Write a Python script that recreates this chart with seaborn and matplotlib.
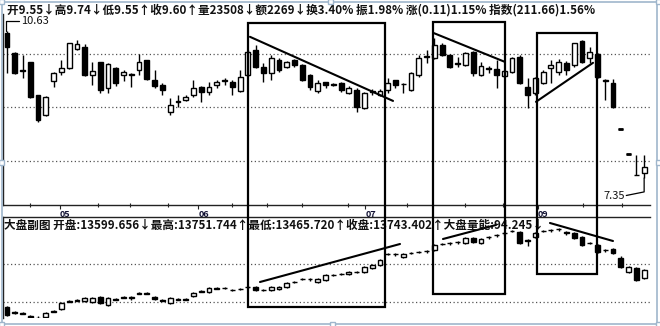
import numpy as np
import matplotlib
matplotlib.use("Agg")
import matplotlib.pyplot as plt
import matplotlib.transforms as mtransforms
from matplotlib.patches import Rectangle
import seaborn as sns

sns.set_theme(style="white")
plt.rcParams['font.family'] = ['Noto Sans CJK SC', 'DejaVu Sans']

# ---------------- data: stock daily candles ----------------
stock_open = [10.59, 10.14, 9.76, 9.94, 9.20, 8.76, 9.51, 9.72, 9.80, 10.23,
              10.27, 9.65, 9.94, 9.36, 9.80, 9.65, 9.65, 9.76, 9.98, 9.54,
              9.43, 8.82, 9.05, 9.09, 9.20, 9.38, 9.27, 9.43, 9.51, 9.49,
              9.29, 9.65, 10.21, 9.83, 9.69, 9.98, 9.83, 9.98, 9.87, 9.65,
              9.29, 9.49, 9.45, 9.47, 9.25, 9.31, 8.91, 9.27, 9.20, 9.31,
              9.54, 9.45, 9.31, 9.65, 10.05, 10.03, 10.32, 10.09, 9.92, 9.87,
              10.16, 9.65, 9.80, 9.78, 9.63, 9.72, 10.05, 9.38, 9.25, 9.47,
              9.80, 9.72, 9.92, 9.87, 10.41, 10.03, 10.12, 9.51, 9.47, 8.44,
              7.89, 7.42, 7.46]
stock_high = [10.63, 10.16, 10.09, 9.94, 9.20, 9.18, 9.72, 9.98, 10.36, 10.43,
              10.34, 9.94, 9.94, 9.92, 9.83, 9.76, 9.69, 10.12, 9.98, 9.76,
              9.47, 9.14, 9.20, 9.20, 9.54, 9.40, 9.49, 9.54, 9.58, 9.54,
              9.76, 10.21, 10.32, 9.92, 10.09, 10.03, 9.96, 10.00, 9.89, 9.67,
              9.54, 9.49, 9.47, 9.49, 9.40, 9.36, 9.27, 9.34, 9.34, 9.58,
              9.54, 9.47, 9.72, 10.09, 10.21, 10.47, 10.36, 10.12, 10.05, 10.16,
              10.18, 9.94, 9.85, 9.98, 9.76, 10.05, 10.09, 9.58, 9.60, 9.76,
              9.98, 10.00, 9.96, 10.36, 10.43, 10.27, 10.14, 9.56, 9.56, 8.44,
              7.89, 7.86, 7.86]
stock_low = [9.69, 9.67, 9.58, 9.14, 8.60, 8.73, 9.38, 9.65, 9.78, 10.21,
             9.63, 9.43, 9.25, 9.25, 9.40, 9.51, 9.38, 9.65, 9.54, 9.36,
             9.20, 8.76, 8.93, 9.07, 9.16, 9.05, 9.20, 9.36, 9.43, 9.20,
             9.27, 9.63, 9.80, 9.49, 9.54, 9.72, 9.80, 9.83, 9.51, 9.31,
             9.25, 9.36, 9.40, 9.27, 9.22, 8.82, 8.89, 9.20, 9.18, 9.25,
             9.36, 9.25, 9.29, 9.60, 9.92, 10.00, 10.07, 9.80, 9.83, 9.85,
             9.63, 9.63, 9.69, 9.36, 9.60, 9.69, 9.45, 8.91, 9.20, 9.45,
             9.47, 9.65, 9.65, 9.83, 9.92, 9.92, 9.58, 9.09, 8.91, 8.44,
             7.89, 7.42, 7.35]
stock_close = [10.27, 9.69, 9.74, 9.16, 8.64, 9.16, 9.69, 9.80, 10.36, 10.34,
               9.65, 9.74, 9.31, 9.89, 9.47, 9.72, 9.67, 9.94, 9.56, 9.40,
               9.31, 8.98, 9.07, 9.16, 9.36, 9.27, 9.38, 9.49, 9.54, 9.38,
               9.60, 10.16, 9.83, 9.69, 10.03, 9.76, 9.94, 9.87, 9.54, 9.38,
               9.47, 9.43, 9.43, 9.31, 9.36, 8.93, 9.25, 9.29, 9.29, 9.47,
               9.43, 9.44, 9.69, 10.03, 10.07, 10.32, 10.09, 9.83, 9.89, 10.14,
               9.69, 9.85, 9.78, 9.65, 9.74, 10.03, 9.47, 9.20, 9.58, 9.72,
               9.87, 9.94, 9.76, 10.36, 9.94, 10.16, 9.60, 9.54, 8.93, 8.44,
               7.89, 7.42, 7.60]

# ---------------- data: market index candles (sub chart) ----------------
idx_open = [12633, 12483, 12453, 12363, 12318, 12333, 12498, 12573, 12798, 12828,
            12813, 12783, 12933, 12693, 12873, 12918, 12918, 13038, 13053, 12933,
            12843, 12753, 12858, 12873, 12963, 13098, 13083, 13188, 13190, 13150,
            13165, 13225, 13233, 13150, 13143, 13173, 13233, 13375, 13465, 13473,
            13383, 13443, 13585, 13615, 13623, 13675, 13683, 13803, 13893, 14215,
            14223, 14133, 14245, 14275, 14305, 14343, 14515, 14545, 14575, 14553,
            14703, 14553, 14725, 14785, 14845, 14905, 14883, 14613, 14733, 14905,
            14935, 14965, 14883, 14853, 14733, 14545, 14493, 14335, 14373, 14103,
            13683, 13803, 13503]
idx_high = [12663, 12513, 12483, 12393, 12348, 12483, 12543, 12783, 12843, 12873,
            12933, 12933, 12963, 12933, 12903, 12963, 12948, 13083, 13083, 12963,
            12873, 12933, 12903, 12903, 13083, 13143, 13233, 13233, 13233, 13173,
            13203, 13263, 13263, 13173, 13263, 13263, 13383, 13413, 13503, 13503,
            13503, 13623, 13623, 13653, 13713, 13713, 13863, 13923, 14073, 14253,
            14253, 14253, 14283, 14313, 14343, 14523, 14553, 14583, 14613, 14733,
            14733, 14703, 14763, 14823, 14883, 14943, 14913, 14673, 14883, 14943,
            14973, 15003, 14913, 14883, 14763, 14583, 14523, 14373, 14403, 14163,
            13863, 13833, 13773]
idx_low = [12363, 12423, 12408, 12273, 12273, 12303, 12468, 12543, 12768, 12798,
           12783, 12753, 12723, 12663, 12828, 12888, 12843, 13008, 13008, 12843,
           12798, 12723, 12828, 12828, 12933, 13068, 13053, 13158, 13160, 13113,
           13143, 13203, 13113, 13100, 13113, 13143, 13203, 13353, 13443, 13413,
           13353, 13413, 13563, 13593, 13593, 13653, 13653, 13773, 13863, 14193,
           14163, 14103, 14223, 14253, 14253, 14313, 14493, 14493, 14523, 14523,
           14553, 14523, 14673, 14733, 14793, 14883, 14523, 14463, 14703, 14883,
           14883, 14913, 14793, 14673, 14463, 14523, 14253, 14283, 14223, 13803,
           13653, 13413, 13473]
idx_close = [12393, 12453, 12438, 12303, 12303, 12453, 12513, 12753, 12813, 12843,
             12903, 12903, 12753, 12903, 12858, 12933, 12933, 13053, 13038, 12873,
             12828, 12903, 12873, 12858, 13053, 13113, 13203, 13203, 13203, 13143,
             13173, 13233, 13143, 13143, 13233, 13233, 13353, 13383, 13473, 13465,
             13473, 13593, 13593, 13623, 13683, 13683, 13833, 13893, 14043, 14223,
             14210, 14223, 14253, 14283, 14313, 14493, 14523, 14553, 14583, 14703,
             14583, 14673, 14733, 14793, 14853, 14913, 14553, 14643, 14853, 14913,
             14943, 14973, 14853, 14703, 14493, 14553, 14283, 14343, 14253, 13833,
             13833, 13443, 13743]

month_labels = ["05", "06", "07", "09"]
month_pos = [6.8, 24.6, 46.1, 68.3]
minor_ticks = [3, 11.7, 15.8, 20.7, 29, 33.5, 38, 43.9, 51.5, 58.9, 63.8, 74.1, 79.2]

price_grid = [10.12, 8.93, 7.73]
index_grid = [13923, 12783]

header = ("开9.55↓高9.74↓低9.55↑收9.60↑量23508↓额2269↓换3.40% "
          "振1.98% 涨(0.11)1.15% 指数(211.66)1.56%")
sub_title = ("大盘副图 开盘:13599.656↓最高:13751.744↑最低:13465.720↑"
             "收盘:13743.402↑大盘量能:94.245↓")
max_label, min_label = "10.63", "7.35"

# annotation trend lines (candle index, value)
top_lines = [((31.27, 10.50), (49.68, 9.07)),
             ((54.83, 10.59), (64.09, 9.94)),
             ((68.08, 9.05), (75.42, 9.92))]
sub_lines = [((32.56, 13383), (50.58, 14523)),
             ((56.11, 14673), (62.93, 15093)),
             ((69.88, 15153), (77.99, 14613))]
# annotation boxes: candle index span, pixel top/bottom
boxes = [(31.02, 48.65, 23, 307), (54.83, 64.09, 22, 294), (68.21, 75.93, 33, 274)]

# ---------------- layout ----------------
W, H = 660, 326
fig = plt.figure(figsize=(W / 100, H / 100), dpi=100)
fig.patch.set_facecolor("white")

def fy(y):
    return 1 - y / H

def fx(x):
    return x / W

L, R = 3, 650
ax1 = fig.add_axes([fx(L), fy(205), fx(R) - fx(L), (205 - 14) / H])
ax2 = fig.add_axes([fx(L), fy(318), fx(R) - fx(L), (318 - 217) / H])

xlim = ((L - 7) / 7.77, (R - 7) / 7.77)
for ax in (ax1, ax2):
    ax.set_facecolor("white")
    ax.set_xlim(*xlim)
    for s in ax.spines.values():
        s.set_visible(False)
    ax.spines["left"].set_visible(True)
    ax.spines["left"].set_color("#222222")
    ax.spines["left"].set_linewidth(1.0)
    ax.set_yticks([])
    ax.grid(False)

ax1.set_ylim(6.748, 11.009)
ax2.set_ylim(12303, 15333)
ax1.spines["bottom"].set_visible(True)
ax1.spines["bottom"].set_color("#222222")
ax1.spines["bottom"].set_linewidth(1.0)
ax2.spines["top"].set_visible(True)
ax2.spines["top"].set_color("#222222")
ax2.spines["top"].set_linewidth(1.0)
ax2.set_xticks([])

ax1.set_xticks(month_pos)
ax1.set_xticklabels(month_labels, fontsize=6.5, ha="left", color="#111133",
                    fontweight="bold")
ax1.set_xticks(minor_ticks, minor=True)
ax1.tick_params(axis="x", which="major", direction="out", length=3, width=0.8,
                pad=0.5, bottom=True, color="#222222")
ax1.tick_params(axis="x", which="minor", direction="inout", length=3, width=0.8,
                bottom=True, color="#222222")


def draw_candles(ax, o, h, l, c, width=0.62):
    o = np.asarray(o, float); h = np.asarray(h, float)
    l = np.asarray(l, float); c = np.asarray(c, float)
    x = np.arange(len(o))
    ax.vlines(x, l, h, color="black", lw=1.0, zorder=3)
    bottom = np.minimum(o, c)
    height = np.abs(c - o)
    up = c >= o
    ax.bar(x[up], height[up], bottom=bottom[up], width=width, color="white",
           edgecolor="black", lw=1.0, zorder=4)
    ax.bar(x[~up], height[~up], bottom=bottom[~up], width=width, color="black",
           edgecolor="black", lw=1.0, zorder=4)
    flat = (h == l)
    if flat.any():
        ax.hlines(o[flat], x[flat] - width / 2, x[flat] + width / 2,
                  color="black", lw=2, zorder=5)


draw_candles(ax1, stock_open, stock_high, stock_low, stock_close)
draw_candles(ax2, idx_open, idx_high, idx_low, idx_close)

for g in price_grid:
    ax1.axhline(g, color="#555555", lw=0.9, ls=(0, (1, 2)), zorder=1)
for g in index_grid:
    ax2.axhline(g, color="#555555", lw=0.9, ls=(0, (1, 2)), zorder=1)

for (x0, y0), (x1, y1) in top_lines:
    ax1.plot([x0, x1], [y0, y1], color="black", lw=1.5, zorder=6, clip_on=False)
for (x0, y0), (x1, y1) in sub_lines:
    ax2.plot([x0, x1], [y0, y1], color="black", lw=1.5, zorder=6, clip_on=False)

blend = mtransforms.blended_transform_factory(ax1.transData, fig.transFigure)
for x0, x1, ytop, ybot in boxes:
    fig.add_artist(Rectangle((x0, fy(ybot)), x1 - x0, (ybot - ytop) / H,
                             transform=blend, fill=False, edgecolor="black",
                             lw=1.6, zorder=10))

# max / min pointers
imax = int(np.argmax(stock_high))
imin = int(np.argmin(stock_low))
ym_top = 10.85
ax1.plot([imax - 0.15, imax - 0.15, imax + 1.6], [stock_high[imax], ym_top, ym_top],
         color="black", lw=0.9, clip_on=False, zorder=6)
ax1.text(imax + 1.8, ym_top, max_label, fontsize=8, va="center", ha="left", color="#111111")
ax1.plot([imin, imin, imin - 2.3], [stock_low[imin], 7.04, 6.96],
         color="black", lw=0.9, clip_on=False, zorder=6)
ax1.text(imin - 2.5, 6.95, min_label, fontsize=8, va="center", ha="right", color="#111111")

# titles
t_head = fig.text(fx(7), fy(10), header, fontsize=8, va="center", ha="left",
                  color="#111111", fontweight="bold")
t_sub = fig.text(fx(4), fy(225), sub_title, fontsize=8, va="center", ha="left",
                 color="#111111", fontweight="bold")

fig.canvas.draw()
rend = fig.canvas.get_renderer()
for t, target in ((t_head, 586), (t_sub, 538)):
    w = t.get_window_extent(rend).width
    t.set_fontsize(t.get_fontsize() * target / w)

# outer selection frame with handles
frame_col = "#9fb6cc"
fig.add_artist(Rectangle((fx(1.5), fy(323.5)), fx(657) - fx(1.5), (323.5 - 1.5) / H,
                         transform=fig.transFigure, fill=False, edgecolor=frame_col, lw=1.2))
for hx, hy in [(1, 1), (330, 1), (658, 1), (1, 163), (658, 163), (1, 324), (332, 324), (658, 324)]:
    fig.add_artist(Rectangle((fx(hx - 2.5), fy(hy + 2.5)), 5 / W, 5 / H,
                             transform=fig.transFigure, facecolor="white",
                             edgecolor=frame_col, lw=1.0, zorder=20))

fig.savefig("out.png", dpi=100, facecolor="white")
